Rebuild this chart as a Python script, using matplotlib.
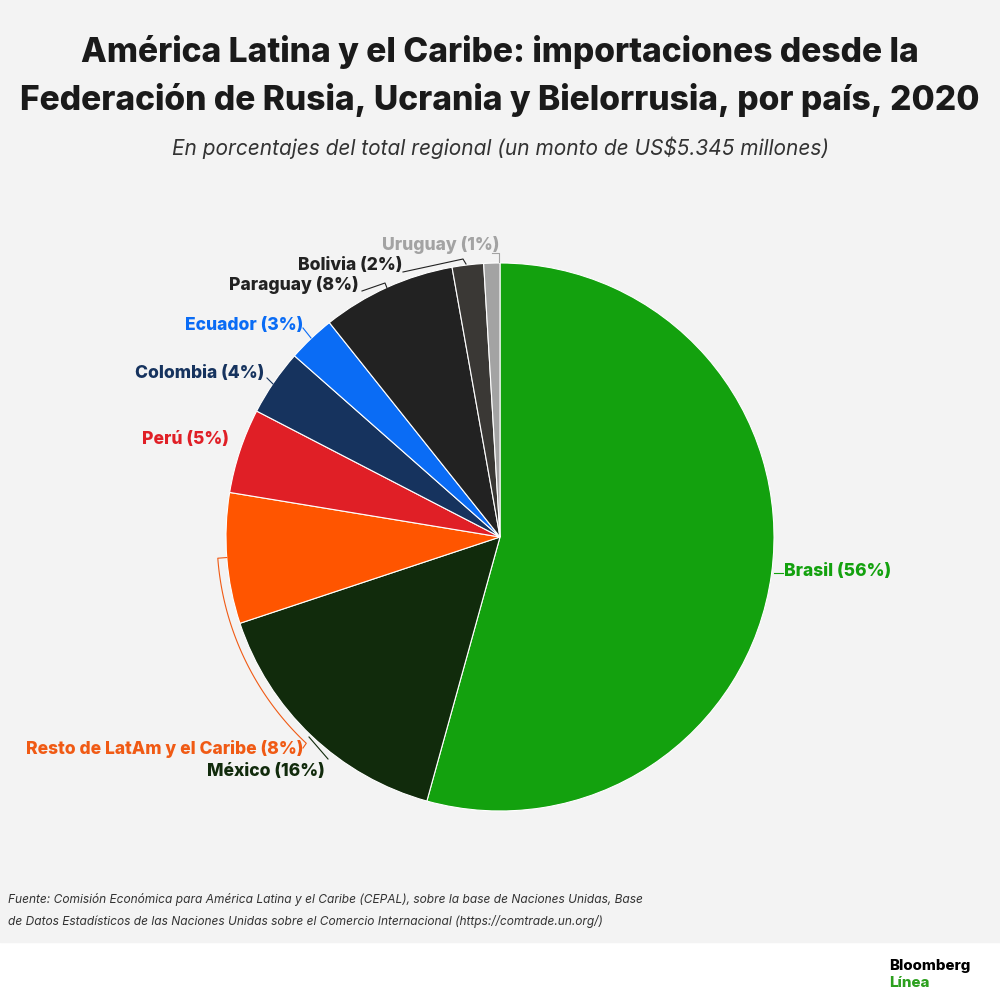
import numpy as np
import matplotlib
matplotlib.use('Agg')
import matplotlib.pyplot as plt
from matplotlib.patches import Rectangle

plt.rcParams['font.family'] = ['Inter', 'DejaVu Sans']

# datos (porcentaje del total regional)
countries = ['Brasil', 'México', 'Resto de LatAm y el Caribe', 'Perú', 'Colombia',
             'Ecuador', 'Paraguay', 'Bolivia', 'Uruguay']
shares = [54.3, 15.6, 7.7, 5.0, 3.9, 2.8, 7.9, 1.85, 0.95]
pct_labels = [56, 16, 8, 5, 4, 3, 8, 2, 1]
colors = ['#13a10e', '#112b0c', '#ff5500', '#e01f26', '#16335e',
          '#0a6cf5', '#222222', '#3a3835', '#a3a3a3']
text_colors = ['#13a10e', '#112b0c', '#f05a14', '#e01f26', '#16335e',
               '#0a6cf5', '#222222', '#222222', '#a3a3a3']


def px(x, y):
    # pixel de la imagen -> coordenadas del eje
    return x, 1000 - y


fig = plt.figure(figsize=(10, 10), dpi=100, facecolor='white')
ax = fig.add_axes([0, 0, 1, 1])

# fondo gris
ax.add_patch(Rectangle((0, 58), 1000, 942, color='#f3f3f3', zorder=0))

cx, cy = px(500, 537)
R = 274
ax.pie(shares, colors=colors, center=(cx, cy), radius=R, startangle=90,
       counterclock=False, frame=True,
       wedgeprops=dict(edgecolor='white', linewidth=0.8))
ax.set_xlim(0, 1000)
ax.set_ylim(0, 1000)
ax.axis('off')

# etiquetas: posicion (x, y en pixeles) y alineacion
label_pos = [(784, 571, 'left'), (325, 771, 'right'), (303, 749, 'right'),
             (229, 440, 'right'), (264, 373, 'right'), (303, 326, 'right'),
             (359, 285, 'right'), (402, 265, 'right'), (500, 245, 'right')]
for name, p, col, (lx, ly, ha) in zip(countries, pct_labels, text_colors, label_pos):
    ax.text(*px(lx, ly), f'{name} ({p}%)', color=col, fontsize=12.6,
            fontweight=800, ha=ha, va='center')

# lineas guia
leaders = {
    0: [(774, 573), (783, 573)],
    1: [(309, 737), (328, 759)],
    4: [(267, 378), (273, 384)],
    5: [(303, 328), (311, 338)],
    6: [(362, 291), (385, 283), (387, 288)],
    7: [(403, 272), (463, 259), (466, 264)],
    8: [(492, 253), (499, 253), (499, 262)],
}
for i, pts in leaders.items():
    xs, ys = zip(*[px(a, b) for a, b in pts])
    ax.plot(xs, ys, color=text_colors[i], lw=0.8)

# arco del resto
a0, a1 = np.deg2rad(265.7), np.deg2rad(223.2)
t = np.linspace(a0, a1, 80)
rr = 283
arc_x = cx + rr * np.sin(t)
arc_y = cy + rr * np.cos(t)
ax.plot(np.r_[cx + 274 * np.sin(a0), arc_x, 303], np.r_[cy + 274 * np.cos(a0), arc_y, 1000 - 748],
        color='#f05a14', lw=0.8)

# titulos
ax.text(500, 1000 - 52, 'América Latina y el Caribe: importaciones desde la',
        ha='center', va='center', fontsize=24.2, fontweight=800, color='#1a1a1a')
ax.text(500, 1000 - 100, 'Federación de Rusia, Ucrania y Bielorrusia, por país, 2020',
        ha='center', va='center', fontsize=24.2, fontweight=800, color='#1a1a1a')
ax.text(500, 1000 - 148, 'En porcentajes del total regional (un monto de US$5.345 millones)',
        ha='center', va='center', fontsize=15, style='italic', color='#333333')

# fuente
ax.text(8, 1000 - 900, 'Fuente: Comisión Económica para América Latina y el Caribe (CEPAL), sobre la base de Naciones Unidas, Base',
        ha='left', va='center', fontsize=8.6, style='italic', color='#333333')
ax.text(8, 1000 - 922, 'de Datos Estadísticos de las Naciones Unidas sobre el Comercio Internacional (https://comtrade.un.org/)',
        ha='left', va='center', fontsize=8.6, style='italic', color='#333333')

# logo
ax.text(889, 1000 - 966, 'Bloomberg', ha='left', va='center', fontsize=10.8,
        fontweight=800, color='black')
ax.text(889, 1000 - 983, 'Línea', ha='left', va='center', fontsize=10.8,
        fontweight=800, color='#2ca01e')

fig.savefig('out.png', dpi=100, facecolor='white')
